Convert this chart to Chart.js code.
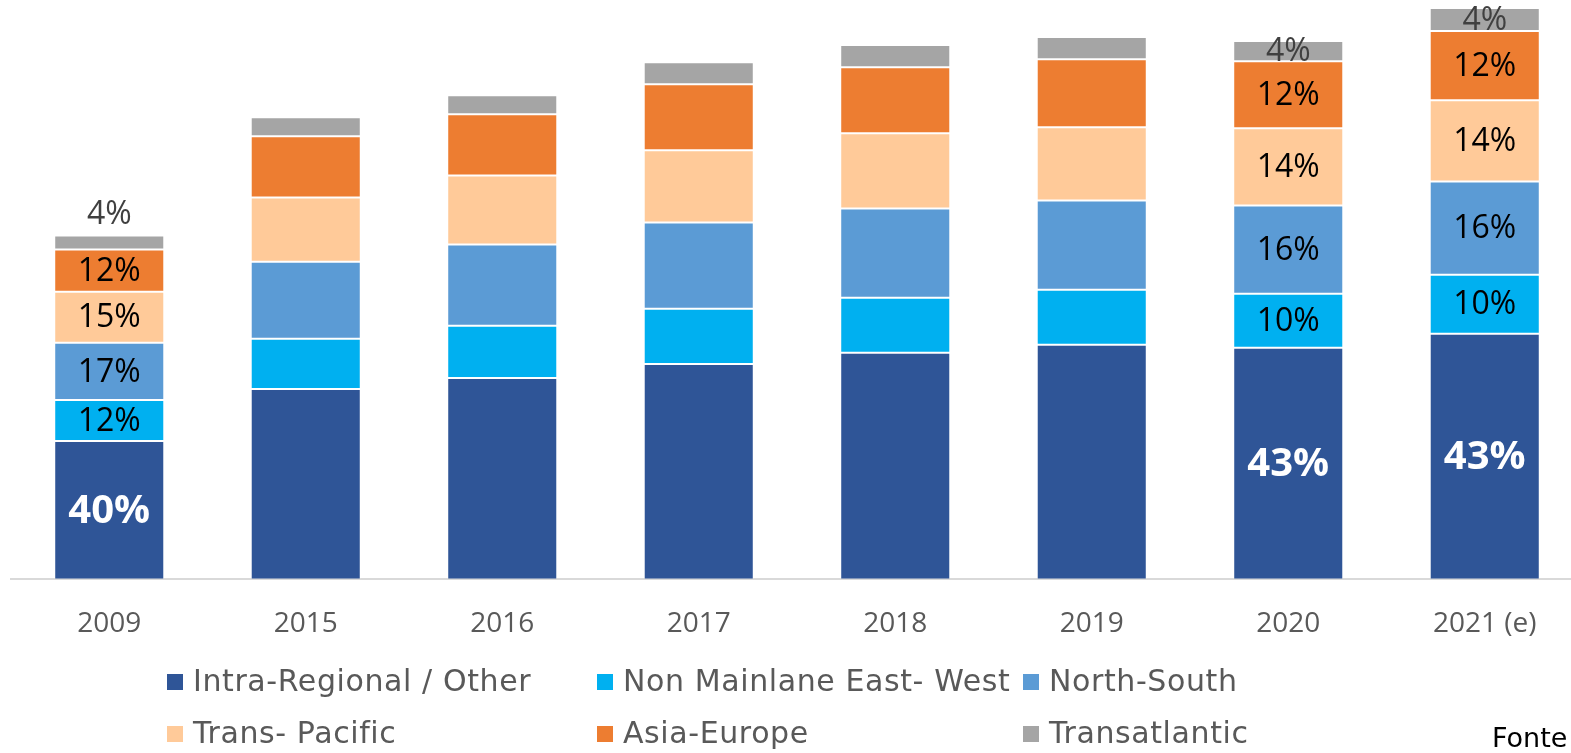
<!DOCTYPE html>
<html>
<head>
<meta charset="utf-8">
<script src="https://cdn.jsdelivr.net/npm/chart.js@4.4.1/dist/chart.umd.min.js"></script>
<style>
  html, body { margin: 0; padding: 0; background: #fff; overflow: hidden; }
  #wrap { position: relative; width: 1571px; height: 753px; overflow: hidden; }
  #grafico { position: absolute; left: 0; top: 0; }
  .leg { position: absolute; font-family: "DejaVu Sans", sans-serif; font-size: 30px; letter-spacing: 0.6px; color: #595959; white-space: nowrap; line-height: 34px; }
  .leg span { display: inline-block; width: 16px; height: 16px; margin-right: 10px; vertical-align: 1px; }
  #fonte { position: absolute; left: 1492px; top: 722px; font-family: "DejaVu Sans", sans-serif; font-size: 27px; color: #000; white-space: nowrap; }
</style>
</head>
<body>
<div id="wrap">
  <canvas id="grafico" width="1600" height="753"></canvas>
  <div id="leyenda"></div>
  <div id="fonte">Fonte</div>
</div>
<script>
// Datos (alturas relativas de cada segmento).
const anos = ['2009', '2015', '2016', '2017', '2018', '2019', '2020', '2021 (e)'];
const intraRegional = [138, 190, 201, 215, 226, 234, 231, 245];
const nonMainlane = [41, 50, 52, 55, 55, 55, 54, 59];
const northSouth = [57, 77, 81, 86, 89, 89, 88, 93];
const transPacific = [51, 64, 69, 72, 75, 73, 77, 81];
const asiaEurope = [42, 61, 61, 66, 66, 68, 67, 69];
const transatlantic = [14, 19, 19, 22, 22, 22, 20, 23];

// Etiquetas de porcentaje (solo en 2009, 2020 y 2021).
const lblIntra = ['40%', null, null, null, null, null, '43%', '43%'];
const lblNonMainlane = ['12%', null, null, null, null, null, '10%', '10%'];
const lblNorthSouth = ['17%', null, null, null, null, null, '16%', '16%'];
const lblTransPacific = ['15%', null, null, null, null, null, '14%', '14%'];
const lblAsiaEurope = ['12%', null, null, null, null, null, '12%', '12%'];
const lblTransatlantic = ['4%', null, null, null, null, null, '4%', '4%'];

const series = [
  { label: 'Intra-Regional / Other', data: intraRegional, color: '#2F5597', labels: lblIntra },
  { label: 'Non Mainlane East- West', data: nonMainlane, color: '#00B0F0', labels: lblNonMainlane },
  { label: 'North-South', data: northSouth, color: '#5B9BD5', labels: lblNorthSouth },
  { label: 'Trans- Pacific', data: transPacific, color: '#FFCA99', labels: lblTransPacific },
  { label: 'Asia-Europe', data: asiaEurope, color: '#ED7D31', labels: lblAsiaEurope },
  { label: 'Transatlantic', data: transatlantic, color: '#A5A5A5', labels: lblTransatlantic }
];

// Plugin para pintar los porcentajes dentro de cada segmento.
const etiquetas = {
  id: 'etiquetas',
  afterDatasetsDraw(chart) {
    const ctx = chart.ctx;
    ctx.save();
    ctx.textAlign = 'center';
    ctx.textBaseline = 'middle';
    chart.data.datasets.forEach(function(ds, d) {
      const meta = chart.getDatasetMeta(d);
      meta.data.forEach(function(bar, i) {
        const txt = series[d].labels[i];
        if (!txt) return;
        let y = (bar.y + bar.base) / 2;
        if (d === 0) {
          ctx.font = 'bold 40px "Open Sans"';
          ctx.fillStyle = '#ffffff';
        } else if (d === series.length - 1) {
          ctx.font = '32px "Open Sans"';
          ctx.fillStyle = '#404040';
          if (bar.base - bar.y < 16) y = bar.y - 22; // muy delgado: encima
        } else {
          ctx.font = '32px "Open Sans"';
          ctx.fillStyle = '#000000';
        }
        ctx.fillText(txt, bar.x, y + 1);
      });
    });
    ctx.restore();
  }
};

var ctx = document.getElementById('grafico').getContext('2d');
var grafico = new Chart(ctx, {
  type: 'bar',
  data: {
    labels: anos,
    datasets: series.map(function(s) {
      return {
        label: s.label,
        data: s.data,
        backgroundColor: s.color,
        borderColor: 'rgba(255,255,255,0.15)',
        borderWidth: 1,
        borderSkipped: false,
        barPercentage: 0.56,
        categoryPercentage: 1
      };
    })
  },
  options: {
    responsive: false,
    animation: false,
    layout: { padding: { left: 11, right: 17, top: 0, bottom: 84 } },
    plugins: { legend: { display: false }, tooltip: { enabled: false } },
    scales: {
      x: {
        stacked: true,
        grid: { display: false, drawTicks: false },
        border: { display: true, color: '#D9D9D9', width: 2 },
        ticks: { color: '#595959', font: { family: 'Open Sans', size: 28 }, padding: 28 }
      },
      y: {
        stacked: true,
        display: false,
        min: 0,
        max: 578
      }
    }
  },
  plugins: [etiquetas]
});

// Leyenda en dos filas de tres columnas.
const columnas = [167, 597, 1023];
const filas = [664, 716];
series.forEach(function(s, k) {
  const el = document.createElement('div');
  el.className = 'leg';
  el.style.left = columnas[k % 3] + 'px';
  el.style.top = filas[Math.floor(k / 3)] + 'px';
  el.innerHTML = '<span style="background:' + s.color + '"></span>' + s.label;
  document.getElementById('leyenda').appendChild(el);
});
</script>
</body>
</html>
